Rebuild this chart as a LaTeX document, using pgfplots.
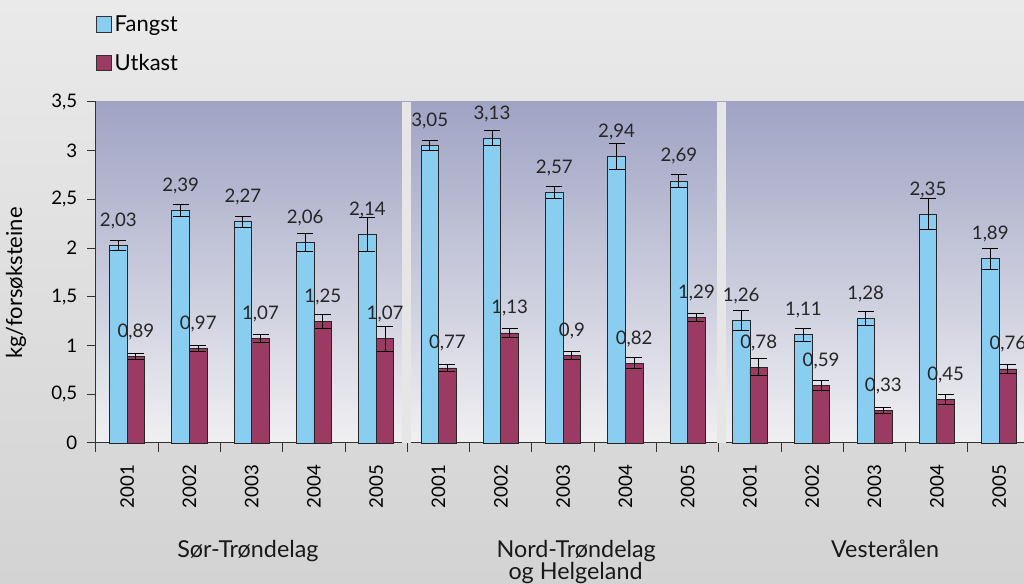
\documentclass[border=0pt]{standalone}
\usepackage{pgfplots}
\pgfplotsset{compat=1.18}
\usepackage{pgfplotstable}
\usepackage{fontspec}
\setmainfont{Lato}
\definecolor{fangst}{RGB}{137,205,240}
\definecolor{utkast}{RGB}{155,58,98}
\definecolor{bgtop}{RGB}{234,234,234}
\definecolor{bgbot}{RGB}{211,211,211}
\definecolor{ptop}{RGB}{160,163,196}
\definecolor{pbot}{RGB}{240,240,242}
\definecolor{sepc}{RGB}{230,230,230}
\definecolor{axc}{RGB}{50,50,50}

\pgfplotstableread{
x y e
0 2.03 0.05
1 2.39 0.06
2 2.27 0.06
3 2.06 0.09
4 2.14 0.17
5 3.05 0.05
6 3.13 0.075
7 2.57 0.06
8 2.94 0.13
9 2.69 0.065
10 1.26 0.10
11 1.11 0.065
12 1.28 0.07
13 2.35 0.16
14 1.89 0.11
}\fangstdata

\pgfplotstableread{
x y e
0 0.89 0.03
1 0.97 0.03
2 1.07 0.04
3 1.25 0.07
4 1.07 0.13
5 0.77 0.04
6 1.13 0.05
7 0.90 0.04
8 0.82 0.06
9 1.29 0.04
10 0.78 0.09
11 0.59 0.05
12 0.33 0.03
13 0.45 0.05
14 0.76 0.05
}\utkastdata

\begin{document}
\begin{tikzpicture}
\fill[top color=bgtop, bottom color=bgbot] (-72pt,-105.75pt) rectangle (696pt,332.25pt);
\begin{axis}[
  at={(0,0)}, anchor=south west,
  scale only axis, width=696pt, height=255.75pt,
  xmin=-0.5, xmax=14.4, ymin=0, ymax=3.5,
  clip=false,
  font=\fontsize{14pt}{16pt}\selectfont,
  axis background/.style={top color=ptop, bottom color=pbot},
  axis x line*=bottom, axis y line*=left,
  axis line style={draw=axc, line width=0.75pt},
  /pgf/number format/assume math mode=true,
  /pgf/number format/use comma,
  tick align=outside,
  major tick length=6.5pt,
  tick style={draw=axc, line width=0.75pt},
  ytick={0,0.5,1,1.5,2,2.5,3,3.5},
  yticklabel style={font=\fontsize{14pt}{16pt}\selectfont, xshift=-4pt},
  xtick={-0.5,0.5,1.5,2.5,3.5,4.5,5.5,6.5,7.5,8.5,9.5,10.5,11.5,12.5,13.5},
  xticklabels={},
  extra x ticks={0,1,2,3,4,5,6,7,8,9,10,11,12,13,14},
  extra x tick labels={2001,2002,2003,2004,2005,2001,2002,2003,2004,2005,2001,2002,2003,2004,2005},
  extra x tick style={major tick length=0pt, tick label style={yshift=-13pt, rotate=90, anchor=east, font=\fontsize{14pt}{16pt}\selectfont}},
  ylabel={kg/forsøksteine},
  ylabel style={at={(axis description cs:-0.0862,0.469)}, anchor=center, font=\fontsize{16.5pt}{18pt}\selectfont},
  ybar,
  bar width=0.283,
  legend style={at={(0,1.262)}, anchor=north west, draw=none, fill=none,
    font=\fontsize{16.5pt}{19pt}\selectfont, row sep=11.5pt, inner sep=0pt,
    cells={anchor=west}},
  legend image code/.code={\draw[#1, draw=axc, line width=0.6pt] (0pt,-5.75pt) rectangle (11.25pt,5.75pt);},
  nodes near coords={\pgfmathprintnumber[fixed, precision=2, use comma, assume math mode=true]{\pgfplotspointmeta}},
  every node near coord/.append style={anchor=base, yshift=14.25pt, font=\fontsize{14pt}{16pt}\selectfont, text=black!85},
]
\fill[sepc] (axis cs:4.415,0) rectangle (axis cs:4.56,3.5);
\fill[sepc] (axis cs:9.47,0) rectangle (axis cs:9.615,3.5);

\addplot[fill=fangst, draw=black!85, line width=0.6pt, bar shift=-0.1415,
  error bars/.cd, y dir=both, y explicit,
  error bar style={line width=0.7pt, black},
  error mark options={rotate=90, mark size=6pt, line width=0.7pt, black}]
  table[x=x, y=y, y error=e]{\fangstdata};
\addlegendentry{Fangst}
\addplot[fill=utkast, draw=black!85, line width=0.6pt, bar shift=0.1415,
  error bars/.cd, y dir=both, y explicit,
  error bar style={line width=0.7pt, black},
  error mark options={rotate=90, mark size=6pt, line width=0.7pt, black}]
  table[x=x, y=y, y error=e]{\utkastdata};
\addlegendentry{Utkast}

\node[anchor=base, font=\fontsize{17.5pt}{20pt}\selectfont, text=black!90] at (axis cs:1.94,0) [yshift=-85.7pt] {Sør-Trøndelag};
\node[anchor=base, font=\fontsize{17.5pt}{20pt}\selectfont, text=black!90] at (axis cs:7.21,0) [yshift=-85.7pt] {Nord-Trøndelag};
\node[anchor=base, font=\fontsize{17.5pt}{20pt}\selectfont, text=black!90] at (axis cs:7.2,0) [yshift=-102.75pt] {og Helgeland};
\node[anchor=base, font=\fontsize{17.5pt}{20pt}\selectfont, text=black!90] at (axis cs:12.17,0) [yshift=-85.7pt] {Vesterålen};
\end{axis}
\pgfresetboundingbox
\path[use as bounding box] (-72pt,-105.75pt) rectangle (696pt,332.25pt);
\end{tikzpicture}
\end{document}
